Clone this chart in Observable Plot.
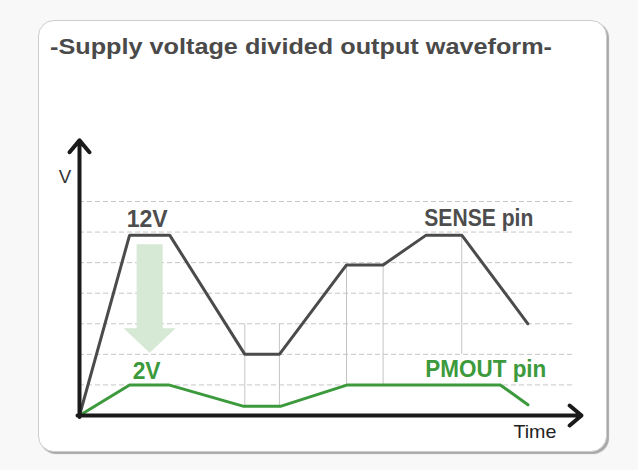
<!DOCTYPE html>
<html>
<head>
<meta charset="utf-8">
<script src="https://cdn.jsdelivr.net/npm/d3@7"></script>
<script src="https://cdn.jsdelivr.net/npm/@observablehq/plot@0.6"></script>
<style>
  html, body { margin: 0; padding: 0; background: #f8f8f8; }
  #page { position: relative; width: 638px; height: 470px; overflow: hidden; }
  #card { position: absolute; left: 38px; top: 20px; width: 567px; height: 430px;
          background: #fff; border: 1px solid #cdcdcd; border-radius: 16px;
          box-shadow: 2px 2px 1px #a8a8a8; }
  #title, #chart { position: absolute; left: 0; top: 0; }
</style>
</head>
<body>
<div id="page">
  <div id="card"></div>
  <svg id="title" width="638" height="80"></svg>
  <div id="chart"></div>
</div>
<script>
// ---- data ----
const titleText = "-Supply voltage divided output waveform-";

const senseT = [0, 10, 18, 33, 39.9, 53.3, 60.6, 69.2, 76.3, 89.5];
const senseV = [0, 11.8, 11.8, 4, 4, 9.85, 9.85, 11.8, 11.8, 6];

const pmoutT = [0, 10, 17.8, 32.8, 40.1, 53.5, 84, 89.5];
const pmoutV = [0, 2, 2, 0.6, 0.6, 2, 2, 0.7];

const gridV = [2, 4, 6, 8, 10, 12, 14];
const gridEnd = 98.4;

const vLineT = [33, 39.9, 53.3, 60.6, 76.3];
const vLineFrom = [0.6, 0.6, 2, 2, 4];
const vLineTo = [6, 6, 9.85, 9.85, 11.8];

// big "divide" arrow: centre time, top voltage, head-start voltage, tip voltage, half widths (time units)
const divArrowT = 14;
const divArrowTop = 11.2;
const divArrowHead = 5.7;
const divArrowTip = 4.1;
const divArrowShaftHalf = 2.6;
const divArrowHeadHalf = 5.2;

const labelText = ["12V", "2V", "SENSE pin", "PMOUT pin", "V", "Time"];
const labelT = [13.5, 13.4, 79.7, 81.1, -2.9, 90.9];
const labelV = [12.3, 2.42, 12.38, 2.5, 15.24, -1.44];

// ---- styles ----
const GREY = "#4b4b4b", GREEN = "#3c9a3c", AXIS = "#1a1a1a";
const FONT = "'Liberation Sans', Arial, sans-serif";
const labelStyle = {
  "12V":       {size: 24, weight: "bold",   fill: "#4d4d4d", w: 41},
  "2V":        {size: 23, weight: "bold",   fill: GREEN,     w: 28},
  "SENSE pin": {size: 23, weight: "bold",   fill: "#4d4d4d", w: 109},
  "PMOUT pin": {size: 23, weight: "bold",   fill: GREEN,     w: 121},
  "V":         {size: 18, weight: "normal", fill: "#333",    w: 12.5},
  "Time":      {size: 19, weight: "normal", fill: "#222",    w: 43}
};

// ---- title ----
d3.select("#title").append("text")
  .attr("x", 50).attr("y", 54)
  .attr("font-family", FONT).attr("font-weight", "bold").attr("font-size", 21.5)
  .attr("fill", "#4a4a4a")
  .attr("textLength", 502).attr("lengthAdjust", "spacingAndGlyphs")
  .text(titleText);

// ---- derived tables ----
const sense = senseT.map((t, i) => ({t, v: senseV[i]}));
const pmout = pmoutT.map((t, i) => ({t, v: pmoutV[i]}));
const vLines = vLineT.map((t, i) => ({t, a: vLineFrom[i], b: vLineTo[i]}));
const divArrow = [
  {t: divArrowT - divArrowShaftHalf, v: divArrowTop},
  {t: divArrowT + divArrowShaftHalf, v: divArrowTop},
  {t: divArrowT + divArrowShaftHalf, v: divArrowHead},
  {t: divArrowT + divArrowHeadHalf,  v: divArrowHead},
  {t: divArrowT,                     v: divArrowTip},
  {t: divArrowT - divArrowHeadHalf,  v: divArrowHead},
  {t: divArrowT - divArrowShaftHalf, v: divArrowHead}
];
const axesArrows = [
  {x1: -0.4, y1: 0, x2: 100.2, y2: 0},
  {x1: 0, y1: -0.1, x2: 0, y2: 18}
];

const labelMarks = labelText.map((txt, i) => {
  const s = labelStyle[txt];
  return Plot.text([i], {
    x: (j) => labelT[j], y: (j) => labelV[j], text: (j) => labelText[j],
    textAnchor: "middle", lineAnchor: "bottom",
    fontSize: s.size, fontWeight: s.weight, fill: s.fill, fontFamily: FONT
  });
});

const plot = Plot.plot({
  width: 638, height: 470,
  marginLeft: 79, marginRight: 58, marginTop: 201, marginBottom: 55,
  x: {domain: [0, 100], axis: null},
  y: {domain: [0, 14], axis: null},
  style: {background: "transparent", fontFamily: FONT, overflow: "visible"},
  marks: [
    Plot.ruleY(gridV, {y: (d) => d, x1: 0, x2: gridEnd, stroke: "#c6c6c6", strokeWidth: 1, strokeDasharray: "5,3"}),
    Plot.ruleX(vLines, {x: "t", y1: "a", y2: "b", stroke: "#c4c4c4", strokeWidth: 1}),
    Plot.line(divArrow, {x: "t", y: "v", fill: "#d6e9d5", stroke: "none", curve: "linear-closed"}),
    Plot.line(sense, {x: "t", y: "v", stroke: GREY, strokeWidth: 3, strokeLinejoin: "miter"}),
    Plot.line(pmout, {x: "t", y: "v", stroke: GREEN, strokeWidth: 3, strokeLinejoin: "miter"}),
    Plot.arrow(axesArrows, {x1: "x1", y1: "y1", x2: "x2", y2: "y2", stroke: AXIS, strokeWidth: 4, headLength: 5.8, headAngle: 80}),
    ...labelMarks
  ]
});

d3.select(plot).selectAll("text").each(function () {
  const s = labelStyle[this.textContent];
  if (s) {
    this.setAttribute("textLength", s.w);
    this.setAttribute("lengthAdjust", "spacingAndGlyphs");
  }
});

document.getElementById("chart").appendChild(plot);
</script>
</body>
</html>
